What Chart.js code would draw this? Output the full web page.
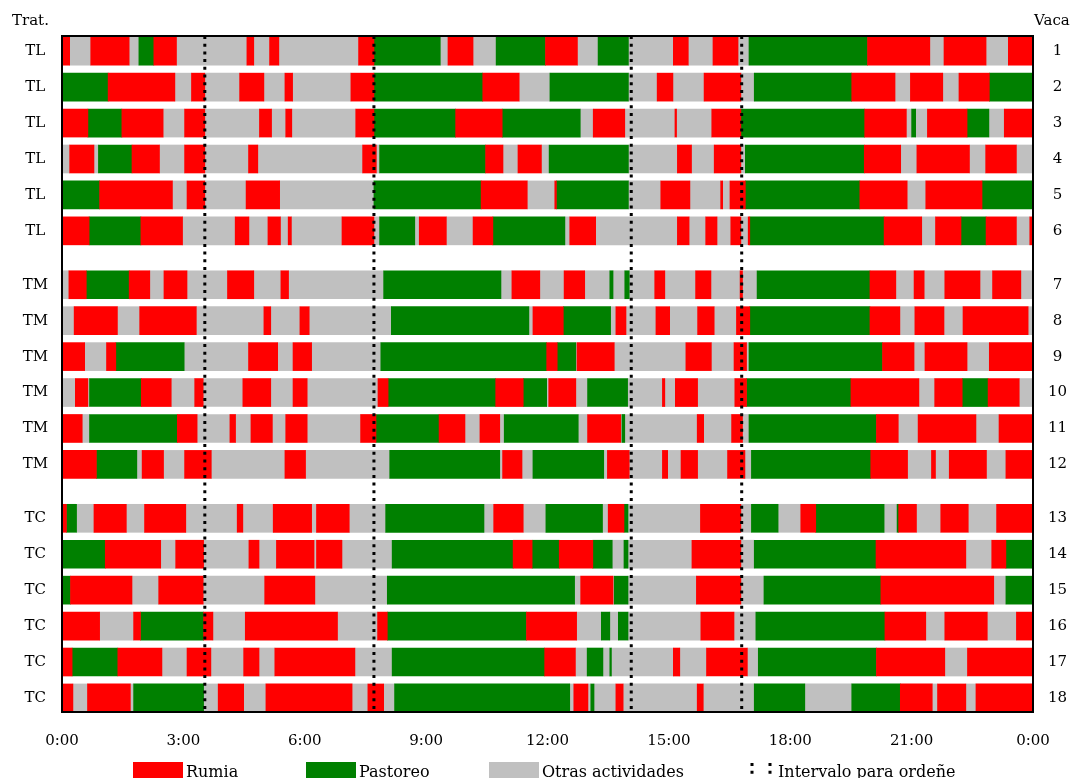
<!DOCTYPE html>
<html>
<head>
<meta charset="utf-8">
<title>Actividad diaria por vaca</title>
<script src="https://cdn.jsdelivr.net/npm/chart.js@4/dist/chart.umd.min.js"></script>
<style>
  html, body { margin: 0; padding: 0; background: #ffffff; }
  canvas { display: block; }
</style>
</head>
<body>
<canvas id="grafico" width="1079" height="778"></canvas>
<script>
// Registro de actividad de cada vaca: cada elemento es "código + hora de fin" (h),
// empezando a las 0:00. R = rumia, P = pastoreo, O = otras actividades.
const vacasTL = [
  'R0.19 O0.71 R1.66 O1.90 P2.27 R2.83 O4.57 R4.74 O5.13 R5.36 O7.33 R7.71 P9.35 O9.54 R10.16 O10.73 P11.95 R12.74 O13.25 P14.00 O15.11 R15.48 O16.09 R16.71 O16.98 P19.91 R21.45 O21.80 R22.84 O23.39 R24',
  'P1.14 R2.79 O3.20 R3.53 O4.39 R4.99 O5.51 R5.70 O7.14 R7.71 P10.40 R11.30 O12.06 P14.00 O14.71 R15.10 O15.87 R16.78 O17.11 P19.52 R20.59 O20.97 R21.77 O22.17 R22.92 P24',
  'R0.64 P1.48 R2.50 O3.03 R3.53 O4.88 R5.18 O5.53 R5.68 O7.26 R7.71 P9.73 R10.88 P12.81 O13.13 R13.91 O15.15 R15.19 O16.06 R16.78 P19.84 R20.87 O21.00 P21.10 O21.39 R22.37 P22.91 O23.29 R24',
  'O0.19 R0.79 O0.90 P1.73 R2.41 O3.03 R3.53 O4.61 R4.84 O7.43 R7.77 O7.85 P10.47 R10.90 O11.27 R11.85 O12.04 P14.00 O15.21 R15.56 O16.12 R16.78 O16.89 P19.83 R20.73 O21.13 R22.43 O22.83 R23.59 O24',
  'P0.93 R2.73 O3.09 R3.53 O4.55 R5.38 O7.71 P10.36 R11.50 O12.18 R12.22 P14.00 O14.80 R15.52 O16.28 R16.33 O16.51 R16.89 P19.72 R20.89 O21.35 R22.74 P24',
  'R0.67 P1.95 R2.98 O4.28 R4.62 O5.09 R5.40 O5.59 R5.67 O6.92 R7.71 O7.85 P8.72 O8.83 R9.50 O10.16 R10.65 P12.43 O12.55 R13.19 O15.21 R15.50 O15.91 R16.19 O16.53 R16.78 O16.96 R17.00 P20.32 R21.25 O21.59 R22.22 P22.84 R23.59 O23.92 R24'
];
const vacasTM = [
  'O0.17 R0.60 P1.66 R2.17 O2.52 R3.09 O4.09 R4.74 O5.41 R5.60 O7.95 P10.85 O11.12 R11.81 O12.41 R12.92 O13.54 P13.62 O13.91 P14.02 O14.65 R14.90 O15.66 R16.04 O16.76 R16.82 O17.18 P19.97 R20.61 O21.06 R21.31 O21.82 R22.69 O23.00 R23.70 O24',
  'O0.30 R1.37 O1.92 R3.32 O4.99 R5.16 O5.88 R6.11 O8.14 P11.54 O11.64 R12.39 P13.56 O13.69 R13.94 O14.68 R15.02 O15.71 R16.12 O16.67 R17.00 P19.97 R20.71 O21.08 R21.80 O22.27 R23.88 O24',
  'R0.56 O1.10 R1.33 P3.02 O4.61 R5.33 O5.71 R6.17 O7.88 P11.98 R12.24 P12.70 O12.73 R13.65 O15.42 R16.05 O16.61 R16.92 O16.98 P20.28 R21.06 O21.33 R22.37 O22.92 R24',
  'O0.33 R0.64 O0.68 P1.96 R2.70 O3.28 R3.49 O4.47 R5.16 O5.71 R6.06 O7.81 R8.06 P10.72 R11.40 P11.98 O12.03 R12.70 O12.99 P13.98 O14.84 R14.90 O15.16 R15.71 O16.63 R16.92 P19.50 R21.18 O21.57 R22.25 P22.89 R23.66 O24',
  'R0.50 O0.68 P2.85 R3.34 O4.15 R4.29 O4.67 R5.20 O5.53 R6.06 O7.38 R7.76 P9.32 R9.96 O10.33 R10.82 O10.93 P12.76 O12.99 R13.81 O13.84 P13.91 O15.70 R15.86 O16.55 R16.82 O16.98 P20.13 R20.67 O21.16 R22.59 O23.16 R24',
  'R0.85 P1.85 O1.98 R2.51 O3.03 R3.69 O5.51 R6.02 O8.10 P10.82 O10.89 R11.37 O11.64 P13.39 O13.48 R14.02 O14.84 R14.97 O15.30 R15.71 O16.45 R16.88 O17.04 P19.99 R20.90 O21.49 R21.59 O21.93 R22.85 O23.33 R24'
];
const vacasTC = [
  'R0.11 P0.36 O0.79 R1.59 O2.04 R3.06 O4.33 R4.47 O5.22 R6.17 O6.29 R7.10 O8.00 P10.43 O10.67 R11.40 O11.96 P13.36 O13.50 R13.89 P13.99 O15.78 R16.78 O17.04 P17.70 O18.26 R18.63 P20.32 O20.64 P20.68 R21.12 O21.72 R22.40 O23.10 R24',
  'P1.07 R2.44 O2.81 R3.50 O4.62 R4.87 O5.30 R6.23 O6.29 R6.92 O8.16 P11.15 R11.62 P12.29 R13.12 P13.60 O13.89 P13.99 O15.57 R16.78 O17.11 P20.12 R22.34 O22.98 R23.33 P24',
  'P0.21 R1.73 O2.39 R3.49 O5.01 R6.25 O8.04 P12.67 O12.82 R13.62 O13.65 P13.99 O15.68 R16.78 O17.35 P20.24 R23.03 O23.33 P24',
  'R0.93 O1.77 R1.94 P3.50 R3.73 O4.53 R6.81 O7.80 R8.04 P11.48 R12.72 O13.33 P13.54 O13.75 P13.99 O15.79 R16.61 O17.15 P20.34 R21.35 O21.82 R22.87 O23.59 R24',
  'R0.25 P1.38 R2.47 O3.09 R3.68 O4.49 R4.87 O5.26 R7.24 O8.16 P11.93 R12.69 O12.98 P13.37 O13.54 P13.58 O15.11 R15.27 O15.93 R16.94 O17.21 P20.13 R21.82 O22.38 R24',
  'R0.27 O0.63 R1.69 O1.77 P3.50 O3.86 R4.49 O5.04 R7.17 O7.56 R7.95 O8.22 P12.55 O12.65 R13.00 O13.07 P13.15 O13.69 R13.87 O15.70 R15.85 O17.11 P18.36 O19.52 P20.72 R21.51 O21.64 R22.34 O22.59 R24'
];

const tratamientos = ['TL', 'TM', 'TC'];
const etiquetasHora = ['0:00', '3:00', '6:00', '9:00', '12:00', '15:00', '18:00', '21:00', '0:00'];
// Horas que delimitan los dos intervalos de ordeñe
const limitesOrdene = [3.53, 7.71, 14.07, 16.80];

const actividades = [
  { codigo: 'R', nombre: 'Rumia', color: '#ff0000' },
  { codigo: 'P', nombre: 'Pastoreo', color: '#008000' },
  { codigo: 'O', nombre: 'Otras actividades', color: '#c0c0c0' }
];

// Eje vertical: una fila por vaca, con medio renglón libre entre tratamientos
const Y_MIN = 0.577, Y_MAX = 19.391;

const filas = [];
const segmentos = { R: [], P: [], O: [] };
let numVaca = 0;
[vacasTL, vacasTM, vacasTC].forEach((grupo, g) => {
  grupo.forEach(registro => {
    numVaca += 1;
    const pos = numVaca + g * 0.5;
    filas.push({ pos, trat: tratamientos[g], vaca: String(numVaca) });
    let inicio = 0;
    registro.split(' ').forEach(tramo => {
      const fin = parseFloat(tramo.slice(1));
      segmentos[tramo[0]].push({ x: [inicio, fin], y: pos });
      inicio = fin;
    });
  });
});

const datasetsBarras = actividades.map(a => ({
  type: 'bar',
  label: a.nombre,
  data: segmentos[a.codigo],
  backgroundColor: a.color,
  borderWidth: 0,
  grouped: false,
  barThickness: 28,
  indexAxis: 'y',
  order: 1
}));

const datasetsOrdene = limitesOrdene.map(t => ({
  type: 'line',
  label: 'Intervalo para ordeñe',
  data: [{ x: t, y: Y_MIN }, { x: t, y: Y_MAX }],
  borderColor: '#000000',
  borderWidth: 3,
  borderDash: [3, 4.7],
  borderCapStyle: 'butt',
  pointRadius: 0,
  fill: false,
  indexAxis: 'x',
  order: 0
}));

const FUENTE = '"DejaVu Serif", serif';
Chart.defaults.font.family = FUENTE;
Chart.defaults.color = '#000000';

function ejeVaca(posicion, ancho, relleno, texto) {
  return {
    type: 'linear',
    position: posicion,
    reverse: true,
    min: Y_MIN,
    max: Y_MAX,
    offset: false,
    grid: { display: false, drawTicks: false },
    border: { display: false },
    afterBuildTicks: s => { s.ticks = filas.map(f => ({ value: f.pos })); },
    afterFit: s => { s.width = ancho; },
    ticks: {
      autoSkip: false,
      padding: relleno,
      crossAlign: 'center',
      color: '#000000',
      font: { size: 15 },
      callback: (v, i) => texto(filas[i])
    }
  };
}

// Marco, encabezados y leyenda
const decoracion = {
  id: 'decoracion',
  afterDatasetsDraw(chart) {
    const { ctx, chartArea: a } = chart;
    ctx.save();
    ctx.strokeStyle = '#000000';
    ctx.lineWidth = 2;
    ctx.strokeRect(a.left, a.top, a.right - a.left, a.bottom - a.top);
    ctx.restore();
  },
  afterDraw(chart) {
    const ctx = chart.ctx;
    ctx.save();
    ctx.fillStyle = '#000000';
    ctx.textBaseline = 'alphabetic';
    ctx.font = '15px ' + FUENTE;
    ctx.textAlign = 'left';
    ctx.fillText('Trat.', 12, 25);
    ctx.fillText('Vaca', 1034, 25);

    ctx.font = '16px ' + FUENTE;
    const cajas = [133, 306, 489];
    actividades.forEach((act, i) => {
      ctx.fillStyle = act.color;
      ctx.fillRect(cajas[i], 762, 50, 20);
      ctx.fillStyle = '#000000';
      ctx.fillText(act.nombre, cajas[i] + 53, 777);
    });
    ctx.strokeStyle = '#000000';
    ctx.lineWidth = 3;
    ctx.setLineDash([3, 4.7]);
    [752, 770].forEach(x => {
      ctx.beginPath();
      ctx.moveTo(x, 763);
      ctx.lineTo(x, 782);
      ctx.stroke();
    });
    ctx.setLineDash([]);
    ctx.fillText(datasetsOrdene[0].label, 778, 777);
    ctx.restore();
  }
};

new Chart(document.getElementById('grafico'), {
  type: 'bar',
  data: { datasets: [...datasetsOrdene, ...datasetsBarras] },
  options: {
    indexAxis: 'y',
    responsive: false,
    animation: false,
    devicePixelRatio: 1,
    layout: { padding: { top: 36, left: 0, right: 0, bottom: 0 } },
    plugins: { legend: { display: false }, tooltip: { enabled: false } },
    scales: {
      x: {
        type: 'linear',
        position: 'bottom',
        min: 0,
        max: 24,
        offset: false,
        grid: { display: false, drawTicks: false },
        border: { display: false },
        afterFit: s => { s.height = 66; },
        ticks: {
          stepSize: 3,
          autoSkip: false,
          maxRotation: 0,
          padding: 20,
          color: '#000000',
          font: { size: 15 },
          callback: (v, i) => etiquetasHora[i]
        }
      },
      y: ejeVaca('left', 62, 14, f => f.trat),
      y2: ejeVaca('right', 46, 15, f => f.vaca)
    }
  },
  plugins: [decoracion]
});
</script>
</body>
</html>
